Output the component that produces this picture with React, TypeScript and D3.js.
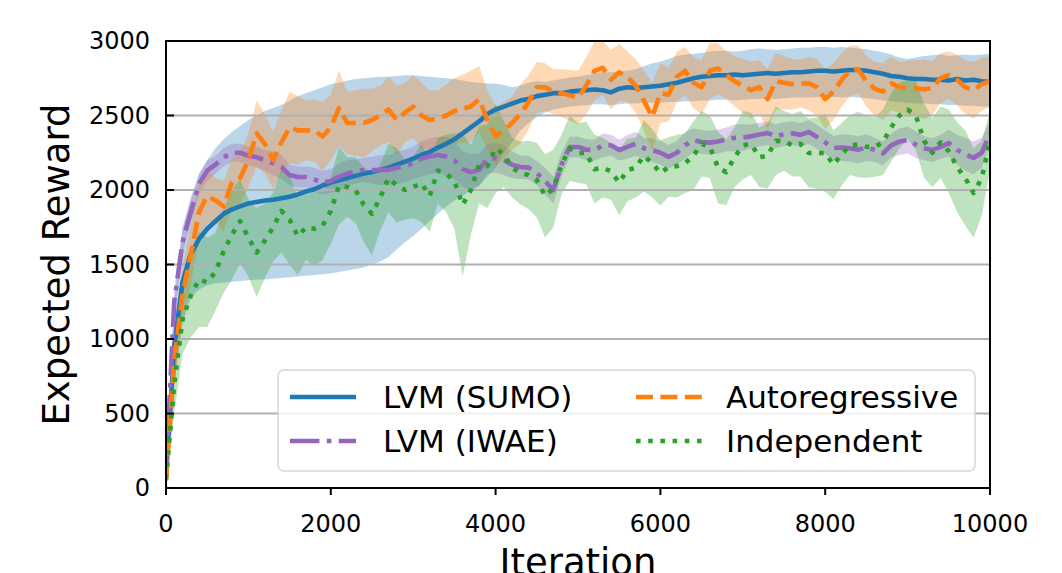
import React from 'react'
import * as d3 from 'd3'

// iterations are sampled every 100 steps
const iterations = d3.range(0, 10001, 100)

const sumoMean = [
  80, 950, 1380, 1570, 1670, 1740, 1790, 1840, 1870, 1890,
  1910, 1920, 1930, 1935, 1945, 1955, 1970, 1990, 2005, 2030,
  2050, 2065, 2080, 2095, 2110, 2120, 2135, 2150, 2170, 2190,
  2210, 2235, 2255, 2285, 2310, 2340, 2380, 2420, 2460, 2510,
  2540, 2560, 2580, 2600, 2610, 2630, 2640, 2650, 2650, 2660,
  2665, 2670, 2675, 2670, 2655, 2680, 2690, 2685, 2690, 2695,
  2700, 2710, 2720, 2735, 2750, 2760, 2765, 2770, 2770, 2775,
  2770, 2775, 2780, 2785, 2780, 2785, 2790, 2790, 2795, 2800,
  2800, 2795, 2800, 2805, 2805, 2800, 2790, 2780, 2765, 2760,
  2750, 2745, 2745, 2740, 2740, 2735, 2745, 2735, 2740, 2730,
  2725
]
const sumoLower = [
  50, 700, 1100, 1280, 1330, 1360, 1375, 1380, 1385, 1390,
  1395, 1400, 1400, 1405, 1410, 1415, 1420, 1425, 1430, 1435,
  1440, 1450, 1460, 1470, 1480, 1500, 1520, 1550, 1600, 1650,
  1690, 1740, 1790, 1840, 1890, 1930, 1960, 2000, 2030, 2090,
  2150, 2250, 2320, 2400, 2450, 2490, 2520, 2540, 2550, 2560,
  2565, 2570, 2575, 2575, 2570, 2575, 2580, 2580, 2585, 2585,
  2585, 2590, 2590, 2595, 2595, 2600, 2600, 2605, 2605, 2600,
  2605, 2610, 2610, 2615, 2610, 2615, 2620, 2620, 2620, 2625,
  2625, 2625, 2620, 2625, 2620, 2615, 2610, 2600, 2595, 2590,
  2585, 2580, 2580, 2575, 2575, 2570, 2570, 2565, 2565, 2560,
  2560
]
const sumoUpper = [
  120, 1250, 1750, 1950, 2100, 2200, 2280, 2340, 2390, 2430,
  2470, 2500, 2530, 2550, 2570, 2600, 2630, 2650, 2670, 2690,
  2710, 2720, 2735, 2745, 2750, 2755, 2760, 2760, 2765, 2770,
  2770, 2765, 2760, 2755, 2750, 2745, 2735, 2725, 2720, 2715,
  2715, 2705, 2690, 2700, 2720, 2730, 2725, 2735, 2745, 2755,
  2760, 2770, 2780, 2790, 2790, 2795, 2800, 2810, 2830, 2850,
  2860, 2880, 2900, 2910, 2915, 2920, 2930, 2935, 2935, 2930,
  2935, 2945, 2950, 2945, 2940, 2945, 2950, 2955, 2955, 2960,
  2960, 2955, 2960, 2955, 2950, 2945, 2935, 2925, 2910, 2890,
  2880, 2890, 2900, 2905, 2910, 2900, 2905, 2910, 2905, 2910,
  2915
]

const iwaeMean = [
  100, 1250, 1650, 1850, 2040, 2130, 2170, 2220, 2250, 2250,
  2230, 2220, 2200, 2180, 2155, 2100, 2087, 2087, 2070, 2050,
  2060, 2090, 2110, 2125, 2134, 2134, 2134, 2134, 2150, 2160,
  2180, 2210, 2225, 2235, 2225, 2200, 2140, 2120, 2135, 2210,
  2215, 2200, 2170, 2154, 2150, 2114, 2060, 2000, 2170, 2289,
  2289, 2270, 2268, 2300, 2300, 2268, 2289, 2310, 2280, 2268,
  2250, 2222, 2250, 2300, 2335, 2322, 2318, 2325, 2340, 2350,
  2352, 2360, 2372, 2382, 2360, 2375, 2380, 2370, 2389, 2356,
  2320, 2282, 2285, 2280, 2270, 2285, 2270, 2245, 2300, 2325,
  2335, 2305, 2280, 2268, 2290, 2315, 2270, 2240, 2215, 2250,
  2380
]
const iwaeSpread = [
  20, 80, 80, 70, 70, 70, 60, 60, 60, 60,
  60, 70, 70, 80, 80, 70, 70, 70, 80, 80,
  80, 90, 90, 80, 80, 90, 100, 100, 110, 110,
  110, 120, 120, 120, 130, 130, 120, 120, 110, 100,
  100, 100, 90, 80, 80, 80, 90, 90, 80, 70,
  70, 70, 70, 80, 70, 70, 80, 80, 70, 80,
  80, 80, 80, 90, 80, 80, 80, 80, 80, 90,
  90, 80, 80, 80, 80, 80, 80, 80, 80, 80,
  80, 80, 90, 90, 90, 90, 80, 80, 80, 90,
  90, 90, 80, 80, 80, 90, 100, 110, 110, 100,
  80
]

const arMean = [
  50, 850, 1300, 1560, 1850, 1960, 1930, 1890, 2050, 2080,
  2200, 2380, 2310, 2200, 2320, 2420, 2400, 2400, 2400, 2360,
  2420, 2550, 2450, 2450, 2450, 2470, 2500, 2540, 2470, 2520,
  2560, 2500, 2470, 2480, 2500, 2530, 2545, 2560, 2610, 2470,
  2360, 2400, 2450, 2510, 2590, 2690, 2690, 2660, 2650, 2635,
  2620, 2700, 2800, 2820, 2740, 2790, 2760, 2700, 2600, 2490,
  2650, 2640, 2760, 2800, 2720, 2690, 2800, 2815, 2770, 2730,
  2700, 2670, 2690, 2610, 2730, 2720, 2710, 2715, 2715, 2690,
  2610, 2660, 2740, 2800, 2810, 2730, 2680, 2660, 2715, 2690,
  2685, 2685, 2675, 2685, 2750, 2770, 2740, 2690, 2670, 2710,
  2730
]
const arSpread = [
  30, 150, 180, 200, 200, 180, 150, 170, 160, 170,
  180, 220, 200, 190, 210, 240, 230, 200, 210, 230,
  220, 250, 210, 220, 230, 210, 200, 220, 230, 200,
  210, 220, 200, 190, 210, 220, 230, 240, 220, 200,
  200, 190, 180, 200, 180, 170, 160, 150, 160, 170,
  180, 190, 200, 180, 200, 190, 170, 180, 200, 230,
  200, 180, 170, 160, 170, 180, 190, 170, 160, 170,
  180, 190, 180, 200, 190, 180, 170, 160, 180, 190,
  200, 190, 180, 170, 160, 170, 180, 190, 180, 170,
  180, 190, 200, 180, 170, 160, 170, 180, 190, 180,
  170
]

const indMean = [
  60, 700, 1130, 1290, 1400, 1380, 1450, 1590, 1700, 1790,
  1680, 1580, 1660, 1750, 1860, 1800, 1690, 1750, 1740, 1760,
  1860, 2030, 2020, 2000, 1900, 1840, 1950, 2080, 2030, 2000,
  2020, 2045, 1960, 2130, 2110, 2060, 1900, 2000, 2170, 2160,
  2280, 2240, 2150, 2114, 2100, 2067, 1960, 2010, 2170, 2280,
  2248, 2248, 2140, 2150, 2125, 2050, 2134, 2150, 2230, 2180,
  2114, 2154, 2160, 2180, 2230, 2310, 2290, 2150, 2120, 2220,
  2300, 2310, 2220, 2230, 2330, 2330, 2300, 2310, 2248, 2248,
  2248, 2170, 2240, 2300, 2305, 2290, 2289, 2320, 2420, 2500,
  2540, 2500, 2330, 2250, 2320, 2260, 2154, 2080, 1980, 2080,
  2330
]
const indSpread = [
  30, 200, 230, 280, 320, 300, 260, 280, 300, 280,
  260, 300, 250, 230, 280, 300, 260, 220, 250, 230,
  220, 260, 200, 220, 250, 280, 220, 230, 250, 200,
  210, 260, 240, 220, 260, 320, 480, 300, 260, 280,
  300, 220, 200, 210, 230, 250, 280, 260, 200, 220,
  200, 210, 230, 200, 190, 220, 210, 200, 240, 230,
  220, 200, 210, 200, 230, 220, 210, 240, 220, 200,
  230, 210, 200, 220, 230, 200, 210, 220, 230, 240,
  260, 230, 210, 200, 220, 210, 200, 220, 230, 220,
  200, 230, 250, 230, 240, 280, 300, 320, 300, 250,
  200
]

const xTicks = [0, 2000, 4000, 6000, 8000, 10000]
const yTicks = [0, 500, 1000, 1500, 2000, 2500, 3000]

const WIDTH = 1062
const HEIGHT = 573
const margin = { top: 41, right: 72, bottom: 85, left: 166 }
const FONT = 'DejaVu Sans, sans-serif'
const LW = 4.6

interface Series {
  label: string
  color: string
  dash: string
  mean: number[]
  lower: number[]
  upper: number[]
}

const series: Series[] = [
  { label: 'LVM (SUMO)', color: '#1f77b4', dash: 'none', mean: sumoMean, lower: sumoLower, upper: sumoUpper },
  {
    label: 'LVM (IWAE)', color: '#9467bd', dash: `${LW * 6.4},${LW * 1.6},${LW},${LW * 1.6}`,
    mean: iwaeMean, lower: iwaeMean.map((m, i) => m - iwaeSpread[i]), upper: iwaeMean.map((m, i) => m + iwaeSpread[i])
  },
  {
    label: 'Autoregressive', color: '#ff7f0e', dash: `${LW * 3.7},${LW * 1.6}`,
    mean: arMean, lower: arMean.map((m, i) => m - arSpread[i]), upper: arMean.map((m, i) => m + arSpread[i])
  },
  {
    label: 'Independent', color: '#2ca02c', dash: `${LW},${LW * 1.65}`,
    mean: indMean, lower: indMean.map((m, i) => m - indSpread[i]), upper: indMean.map((m, i) => m + indSpread[i])
  }
]

const App: React.FC = () => {
  const x0 = margin.left
  const x1 = WIDTH - margin.right
  const y0 = HEIGHT - margin.bottom
  const y1 = margin.top

  const xScale = d3.scaleLinear().domain([0, 10000]).range([x0, x1])
  const yScale = d3.scaleLinear().domain([0, 3000]).range([y0, y1])

  const line = (vals: number[]) =>
    d3.line<number>()
      .x((_, i) => xScale(iterations[i]))
      .y(d => yScale(d))(vals) ?? ''

  const area = (lo: number[], hi: number[]) =>
    d3.area<number>()
      .x((_, i) => xScale(iterations[i]))
      .y0((_, i) => yScale(lo[i]))
      .y1((_, i) => yScale(hi[i]))(lo) ?? ''

  // legend layout (two columns, filled column-wise like matplotlib)
  const legend = { x: 278, y: 370, w: 697, h: 101 }
  const legendPos = [
    { hx: 290, tx: 383, y: 397 },
    { hx: 290, tx: 383, y: 441 },
    { hx: 636, tx: 726, y: 397 },
    { hx: 636, tx: 726, y: 441 }
  ]

  return (
    <svg width={WIDTH} height={HEIGHT} style={{ position: 'absolute', left: 0, top: 0, background: '#fff' }}>
      <defs>
        <clipPath id="plot-clip">
          <rect x={x0} y={y1} width={x1 - x0} height={y0 - y1} />
        </clipPath>
      </defs>

      <g clipPath="url(#plot-clip)">
        {series.map(s => (
          <path key={s.label + '-band'} d={area(s.lower, s.upper)} fill={s.color} fillOpacity={0.3} stroke="none" />
        ))}
      </g>

      {/* horizontal grid */}
      {yTicks.map(t => (
        <line key={'g' + t} x1={x0} x2={x1} y1={yScale(t)} y2={yScale(t)} stroke="#b0b0b0" strokeWidth={2} />
      ))}

      <g clipPath="url(#plot-clip)">
        {series.map(s => (
          <path
            key={s.label}
            d={line(s.mean)}
            fill="none"
            stroke={s.color}
            strokeWidth={LW}
            strokeDasharray={s.dash}
            strokeLinejoin="round"
            strokeLinecap="butt"
          />
        ))}
      </g>

      {/* frame */}
      <rect x={x0} y={y1} width={x1 - x0} height={y0 - y1} fill="none" stroke="#000" strokeWidth={2} />

      {/* y ticks */}
      {yTicks.map(t => (
        <g key={'y' + t}>
          <line x1={x0} x2={x0 + 8} y1={yScale(t)} y2={yScale(t)} stroke="#000" strokeWidth={2} />
          <text x={150} y={yScale(t)} textAnchor="end" dominantBaseline="central" fontFamily={FONT} fontSize={24}>
            {t}
          </text>
        </g>
      ))}

      {/* x ticks */}
      {xTicks.map(t => (
        <g key={'x' + t}>
          <line x1={xScale(t)} x2={xScale(t)} y1={y0} y2={y0 + 7} stroke="#000" strokeWidth={2} />
          <text x={xScale(t)} y={532} textAnchor="middle" fontFamily={FONT} fontSize={24}>
            {t}
          </text>
        </g>
      ))}

      <text
        transform={`translate(69,${(y0 + y1) / 2}) rotate(-90)`}
        textAnchor="middle"
        fontFamily={FONT}
        fontSize={37}
      >
        Expected Reward
      </text>
      <text x={(x0 + x1) / 2} y={575} textAnchor="middle" fontFamily={FONT} fontSize={37}>
        Iteration
      </text>

      {/* legend */}
      <rect
        x={legend.x}
        y={legend.y}
        width={legend.w}
        height={legend.h}
        rx={6}
        fill="#fff"
        fillOpacity={0.8}
        stroke="#cccccc"
        strokeOpacity={0.8}
        strokeWidth={1.5}
      />
      {series.map((s, i) => {
        const p = legendPos[i]
        return (
          <g key={'leg' + s.label}>
            <line
              x1={p.hx}
              x2={p.hx + 66}
              y1={p.y}
              y2={p.y}
              stroke={s.color}
              strokeWidth={LW}
              strokeDasharray={s.dash}
            />
            <text x={p.tx} y={p.y} dominantBaseline="central" fontFamily={FONT} fontSize={31}>
              {s.label}
            </text>
          </g>
        )
      })}
    </svg>
  )
}

export default App
